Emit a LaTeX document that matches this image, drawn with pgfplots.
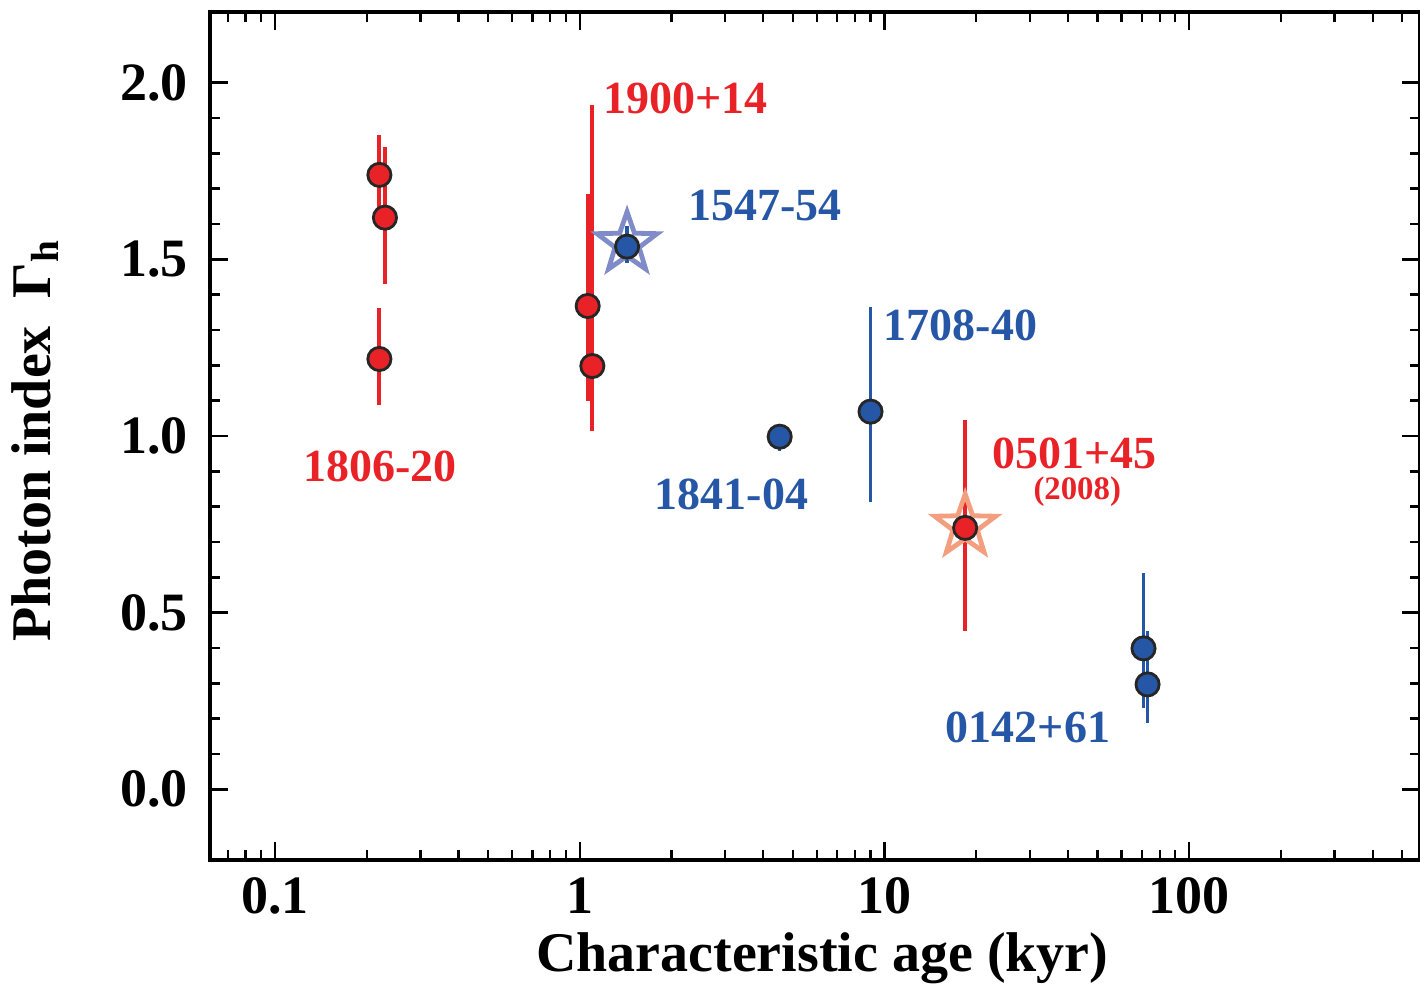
\documentclass[border=0pt]{standalone}
\usepackage{fontspec}
\setmainfont{Liberation Serif}
\usepackage{pgfplots}
\usepackage{pgfplotstable}
\pgfplotsset{compat=1.18}
\definecolor{myred}{RGB}{233,34,40}
\definecolor{myblue}{RGB}{38,86,166}
\definecolor{starblue}{RGB}{128,140,200}
\definecolor{starorange}{RGB}{244,158,128}
\pgfdeclareplotmark{ostar}{%
  \pgfpathmoveto{\pgfpointpolar{90}{\pgfplotmarksize}}%
  \pgfpathlineto{\pgfpointpolar{126}{0.40\pgfplotmarksize}}%
  \pgfpathlineto{\pgfpointpolar{162}{\pgfplotmarksize}}%
  \pgfpathlineto{\pgfpointpolar{198}{0.40\pgfplotmarksize}}%
  \pgfpathlineto{\pgfpointpolar{234}{\pgfplotmarksize}}%
  \pgfpathlineto{\pgfpointpolar{270}{0.40\pgfplotmarksize}}%
  \pgfpathlineto{\pgfpointpolar{306}{\pgfplotmarksize}}%
  \pgfpathlineto{\pgfpointpolar{342}{0.40\pgfplotmarksize}}%
  \pgfpathlineto{\pgfpointpolar{18}{\pgfplotmarksize}}%
  \pgfpathlineto{\pgfpointpolar{54}{0.40\pgfplotmarksize}}%
  \pgfpathclose
  \pgfusepathqstroke}

\pgfplotstableread{
x y ep em
0.2201 1.739 0.114 0.114
0.2295 1.618 0.201 0.187
0.2201 1.218 0.145 0.130
1.062 1.368 0.318 0.270
1.100 1.198 0.740 0.184
18.4 0.740 0.305 0.292
}\redtab

\pgfplotstableread{
x y ep em
1.43 1.536 0.059 0.046
4.53 0.998 0.0 0.040
9.0 1.069 0.295 0.256
70.8 0.399 0.214 0.168
73.0 0.297 0.151 0.109
}\bluetab

\begin{document}
\begin{tikzpicture}
\useasboundingbox (-52.5pt,-31.75pt) rectangle (302.5pt,215pt);
\begin{axis}[at={(0,0)}, anchor=south west,
  scale only axis, width=302.5pt, height=212pt,
  xmode=log, xmin=0.0612, xmax=572, ymin=-0.2, ymax=2.2,
  xtick={0.1,1,10,100}, xticklabels={0.1,1,10,100},
  minor xtick={0.07,0.08,0.09,0.2,0.3,0.4,0.5,0.6,0.7,0.8,0.9,2,3,4,5,6,7,8,9,20,30,40,50,60,70,80,90,200,300,400,500},
  ytick={0,0.5,1,1.5,2}, yticklabels={0.0,0.5,1.0,1.5,2.0},
  minor y tick num=4,
  axis line style={line width=0.8pt},
  major tick length=4.5pt, minor tick length=2.5pt,
  every tick/.style={black, line width=0.6pt},
  tick label style={font=\bfseries\fontsize{13.5}{15}\selectfont},
  xticklabel style={anchor=base, yshift=-13.25pt},
  yticklabel style={anchor=east, xshift=-2pt},
  xlabel={Characteristic age (kyr)},
  ylabel={Photon index\ \ Γ\textsubscript{h}},
  label style={font=\bfseries\fontsize{14}{16}\selectfont},
  xlabel style={at={(axis description cs:0.506,-0.1156)}, anchor=center},
  ylabel style={at={(axis description cs:-0.1446,0.495)}, anchor=center},
  clip=false,
]
% stars
\addplot[only marks, mark=ostar, mark size=7.9pt, mark options={draw=starblue, line width=1.2pt}] coordinates {(1.43,1.545)};
\addplot[only marks, mark=ostar, mark size=8pt, mark options={draw=starorange, line width=1.2pt}] coordinates {(18.4,0.745)};
% error bars
\addplot[only marks, mark=none, error bars/.cd, y dir=both, y explicit, error mark=none,
  error bar style={myred, line width=1pt}]
  table[x=x, y=y, y error plus=ep, y error minus=em] {\redtab};
\addplot[only marks, mark=none, error bars/.cd, y dir=both, y explicit, error mark=none,
  error bar style={myblue, line width=0.9pt}]
  table[x=x, y=y, y error plus=ep, y error minus=em] {\bluetab};
% circles
\addplot[only marks, mark=*, mark size=2.9pt, mark options={fill=myred, draw=black!85, line width=0.7pt}]
  table[x=x, y=y] {\redtab};
\addplot[only marks, mark=*, mark size=2.9pt, mark options={fill=myblue, draw=black!85, line width=0.7pt}]
  table[x=x, y=y] {\bluetab};
% labels
\begin{scope}[every node/.style={font=\bfseries\fontsize{11.5}{13}\selectfont, inner sep=0pt}]
\node[text=myred] at (axis cs:0.221,0.915) {1806-20};
\node[text=myred] at (axis cs:2.226,1.955) {1900+14};
\node[text=myblue] at (axis cs:4.05,1.652) {1547-54};
\node[text=myblue] at (axis cs:17.74,1.312) {1708-40};
\node[text=myblue] at (axis cs:3.15,0.836) {1841-04};
\node[text=myred] at (axis cs:41.98,0.952) {0501+45};
\node[text=myred, font=\bfseries\fontsize{8.2}{10}\selectfont] at (axis cs:42.9,0.844) {(2008)};
\node[text=myblue] at (axis cs:29.6,0.176) {0142+61};
\end{scope}
\end{axis}
\end{tikzpicture}
\end{document}
